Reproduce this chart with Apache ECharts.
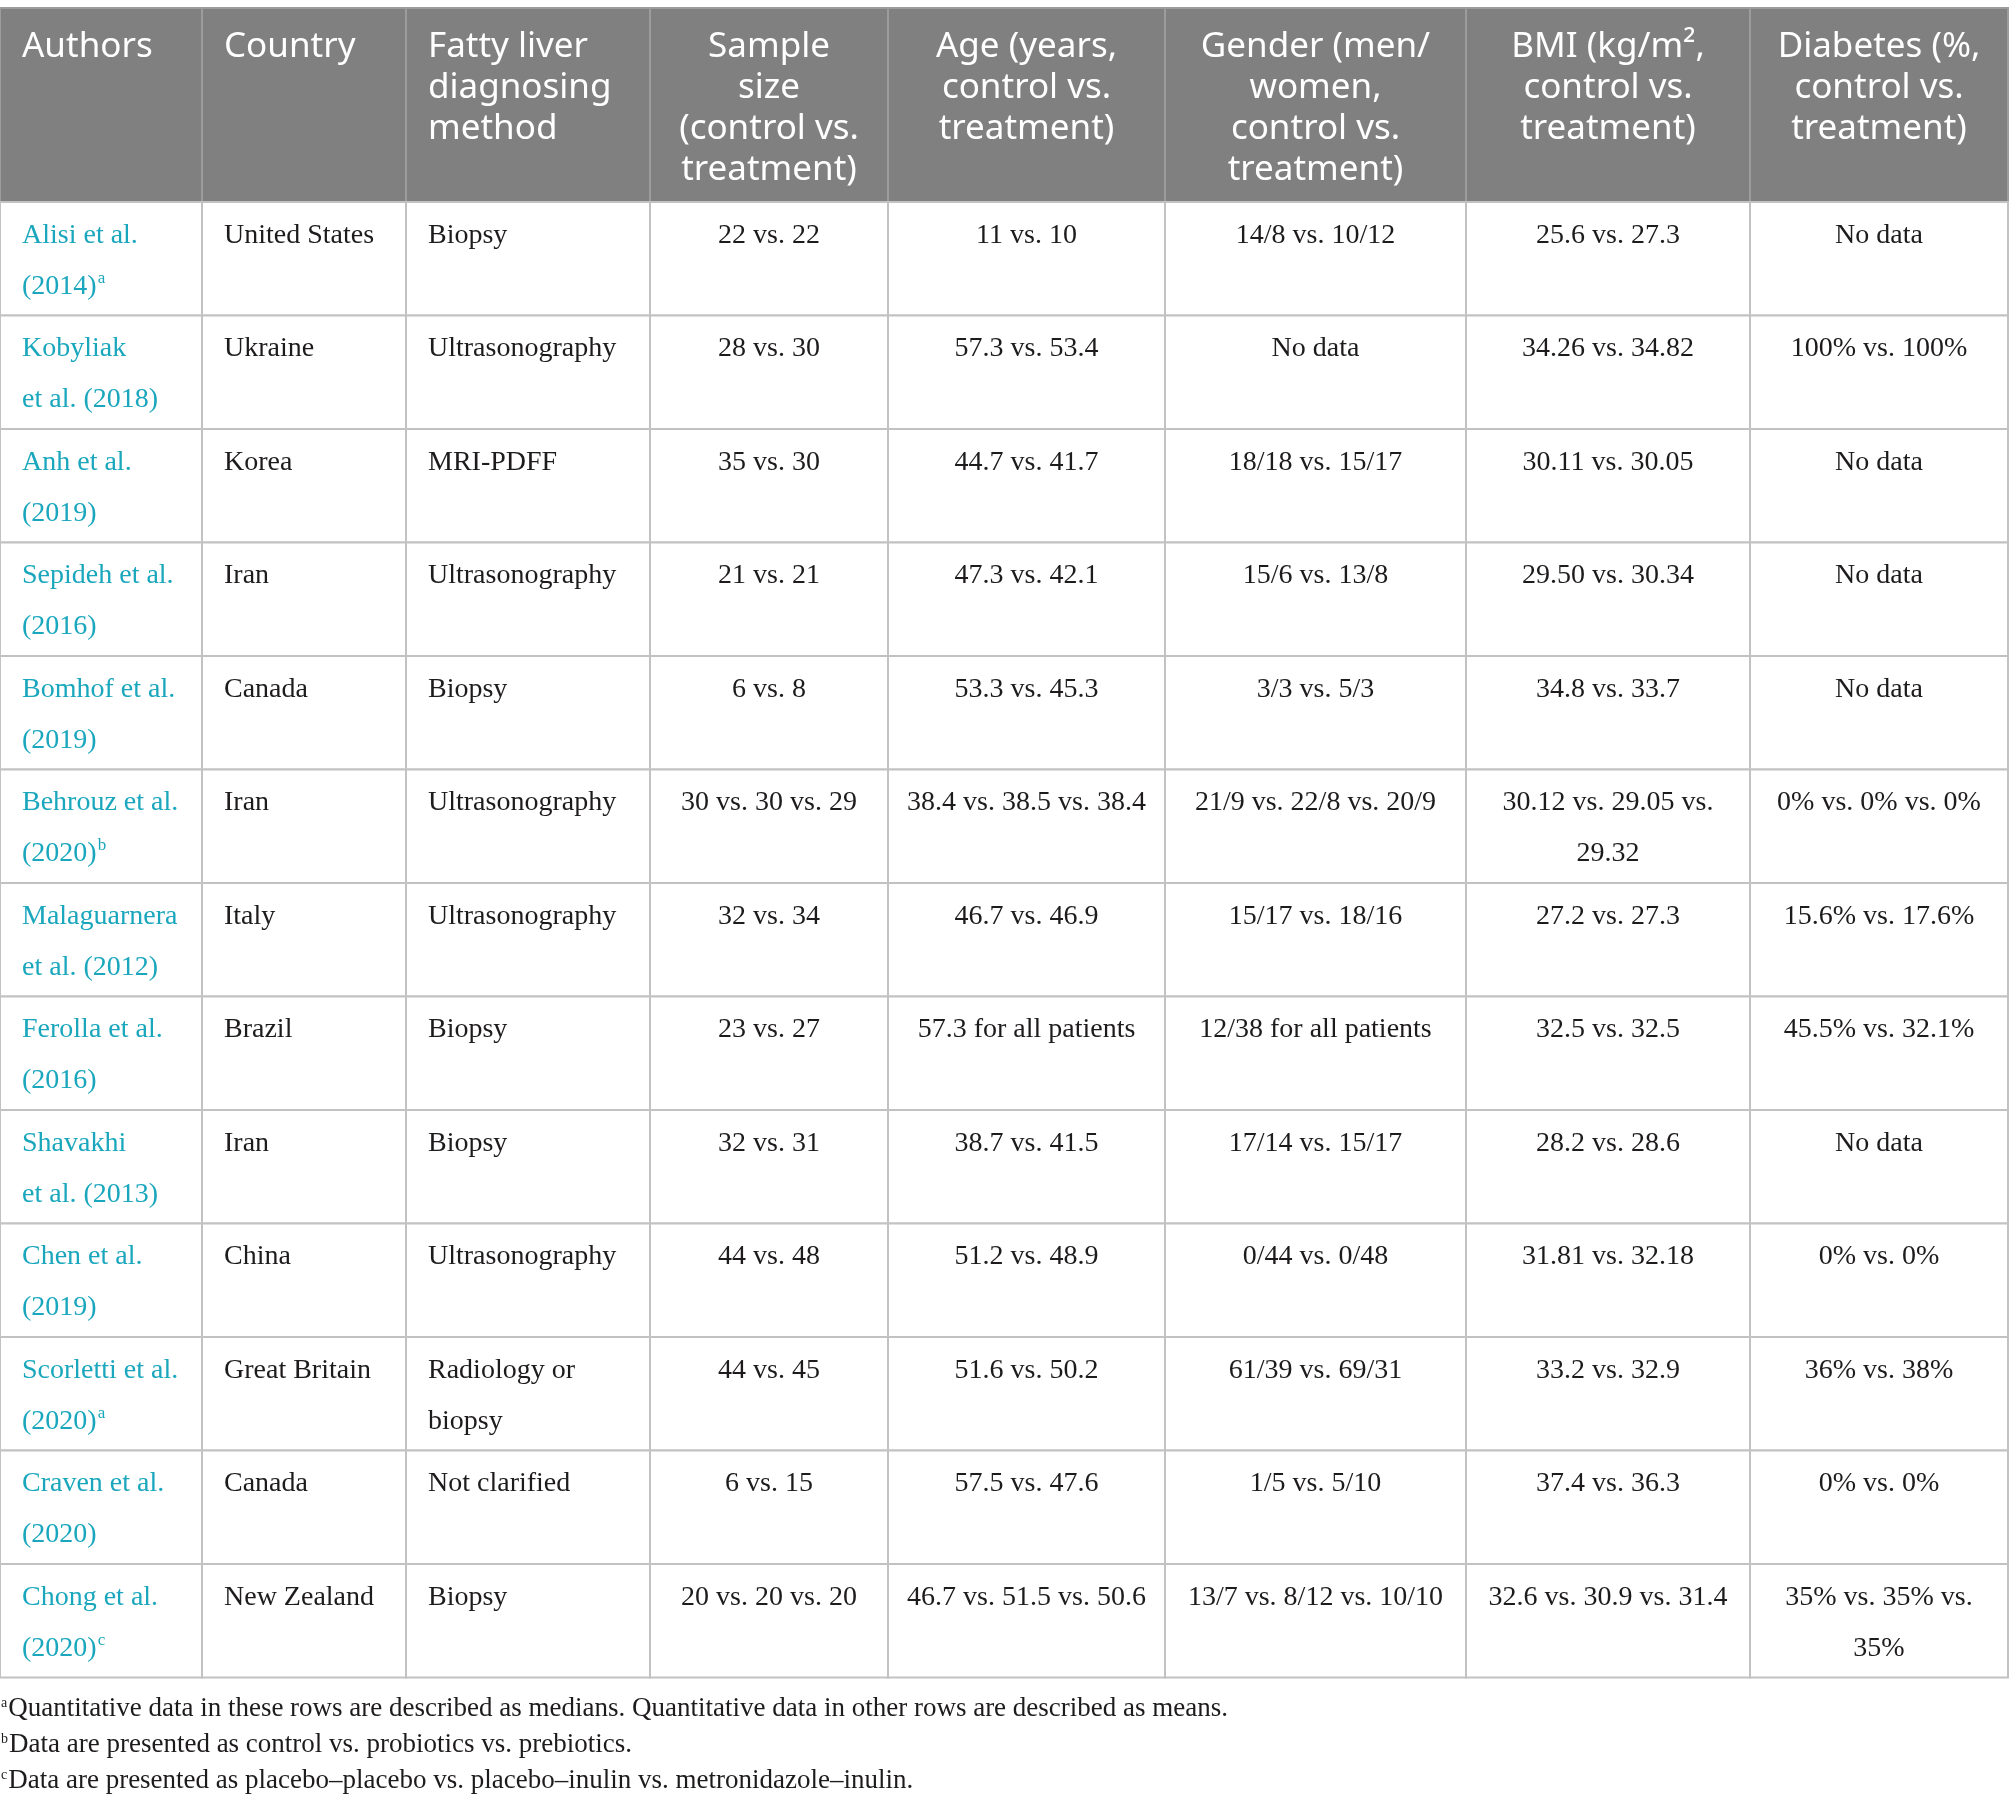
<!DOCTYPE html>
<html>
<head>
<meta charset="utf-8">
<script src="https://cdn.jsdelivr.net/npm/echarts@6/dist/echarts.min.js"></script>
<style>
html,body{margin:0;padding:0;background:#fff}
#main{width:2009px;height:1808px}
</style>
</head>
<body>
<div id="main"></div>
<script>
// table content
var headers = ['Authors', 'Country', 'Fatty liver\ndiagnosing\nmethod', 'Sample\nsize\n(control vs.\ntreatment)',
  'Age (years,\ncontrol vs.\ntreatment)', 'Gender (men/\nwomen,\ncontrol vs.\ntreatment)',
  'BMI (kg/m\u00b2,\ncontrol vs.\ntreatment)', 'Diabetes (%,\ncontrol vs.\ntreatment)'];
var authors = ['Alisi et al.\n(2014)', 'Kobyliak\net al. (2018)', 'Anh et al.\n(2019)', 'Sepideh et al.\n(2016)',
  'Bomhof et al.\n(2019)', 'Behrouz et al.\n(2020)', 'Malaguarnera\net al. (2012)', 'Ferolla et al.\n(2016)',
  'Shavakhi\net al. (2013)', 'Chen et al.\n(2019)', 'Scorletti et al.\n(2020)', 'Craven et al.\n(2020)', 'Chong et al.\n(2020)'];
var notes = ['a', '', '', '', '', 'b', '', '', '', '', 'a', '', 'c'];
var countries = ['United States', 'Ukraine', 'Korea', 'Iran', 'Canada', 'Iran', 'Italy', 'Brazil', 'Iran', 'China',
  'Great Britain', 'Canada', 'New Zealand'];
var methods = ['Biopsy', 'Ultrasonography', 'MRI-PDFF', 'Ultrasonography', 'Biopsy', 'Ultrasonography', 'Ultrasonography',
  'Biopsy', 'Biopsy', 'Ultrasonography', 'Radiology or\nbiopsy', 'Not clarified', 'Biopsy'];
var samples = ['22 vs. 22', '28 vs. 30', '35 vs. 30', '21 vs. 21', '6 vs. 8', '30 vs. 30 vs. 29', '32 vs. 34', '23 vs. 27',
  '32 vs. 31', '44 vs. 48', '44 vs. 45', '6 vs. 15', '20 vs. 20 vs. 20'];
var ages = ['11 vs. 10', '57.3 vs. 53.4', '44.7 vs. 41.7', '47.3 vs. 42.1', '53.3 vs. 45.3', '38.4 vs. 38.5 vs. 38.4',
  '46.7 vs. 46.9', '57.3 for all patients', '38.7 vs. 41.5', '51.2 vs. 48.9', '51.6 vs. 50.2', '57.5 vs. 47.6',
  '46.7 vs. 51.5 vs. 50.6'];
var genders = ['14/8 vs. 10/12', 'No data', '18/18 vs. 15/17', '15/6 vs. 13/8', '3/3 vs. 5/3', '21/9 vs. 22/8 vs. 20/9',
  '15/17 vs. 18/16', '12/38 for all patients', '17/14 vs. 15/17', '0/44 vs. 0/48', '61/39 vs. 69/31', '1/5 vs. 5/10',
  '13/7 vs. 8/12 vs. 10/10'];
var bmis = ['25.6 vs. 27.3', '34.26 vs. 34.82', '30.11 vs. 30.05', '29.50 vs. 30.34', '34.8 vs. 33.7',
  '30.12 vs. 29.05 vs.\n29.32', '27.2 vs. 27.3', '32.5 vs. 32.5', '28.2 vs. 28.6', '31.81 vs. 32.18', '33.2 vs. 32.9',
  '37.4 vs. 36.3', '32.6 vs. 30.9 vs. 31.4'];
var diabetes = ['No data', '100% vs. 100%', 'No data', 'No data', 'No data', '0% vs. 0% vs. 0%', '15.6% vs. 17.6%',
  '45.5% vs. 32.1%', 'No data', '0% vs. 0%', '36% vs. 38%', '0% vs. 0%', '35% vs. 35% vs.\n35%'];
var footnotes = [
  ['a', 'Quantitative data in these rows are described as medians. Quantitative data in other rows are described as means.'],
  ['b', 'Data are presented as control vs. probiotics vs. prebiotics.'],
  ['c', 'Data are presented as placebo\u2013placebo vs. placebo\u2013inulin vs. metronidazole\u2013inulin.']
];

var columns = [authors, countries, methods, samples, ages, genders, bmis, diabetes];

// layout
var colWidths = [202, 204, 244, 238, 277, 301, 284, 258];
var leftCols = 3;          // first columns are left aligned
var headerHeight = 194;
var rowHeight = 113.5;
var nRows = authors.length;
var totalHeight = headerHeight + nRows * rowHeight;

var colEdges = [0];
for (var i = 0; i < colWidths.length; i++) colEdges.push(colEdges[i] + colWidths[i]);

var cells = [];
for (var r = 0; r <= nRows; r++) {
  for (var c = 0; c < columns.length; c++) cells.push([c, r]);
}

var serif = '"Liberation Serif", serif';
var sans = '"Noto Sans", "Open Sans", sans-serif';
var teal = '#1aa7bd';
var ink = '#1e1b1c';

function renderCell(params, api) {
  var c = api.value(0), r = api.value(1);
  var y0 = r === 0 ? 0 : headerHeight + (r - 1) * rowHeight;
  var y1 = r === 0 ? headerHeight : y0 + rowHeight;
  var p0 = api.coord([colEdges[c], y0]);
  var p1 = api.coord([colEdges[c + 1], y1]);
  var left = c < leftCols;
  var tx = left ? p0[0] + 22 : (p0[0] + p1[0]) / 2;
  var text, style;
  if (r === 0) {
    style = {
      text: headers[c], x: tx, y: p0[1] + 19, fill: '#ffffff',
      fontFamily: sans, fontSize: 35, lineHeight: 41,
      align: left ? 'left' : 'center', verticalAlign: 'top'
    };
  } else {
    text = columns[c][r - 1];
    if (c === 0 && notes[r - 1]) text = text + '{sup|' + notes[r - 1] + '}';
    style = {
      text: text, x: tx, y: p0[1] + 8, fill: c === 0 ? teal : ink,
      fontFamily: serif, fontSize: 28, lineHeight: 51,
      align: left ? 'left' : 'center', verticalAlign: 'top',
      rich: { sup: { fontSize: 17, lineHeight: 17, verticalAlign: 'top', padding: [9, 0, 0, 1], fontFamily: serif } }
    };
  }
  return {
    type: 'group',
    children: [
      {
        type: 'rect',
        shape: { x: p0[0], y: p0[1], width: p1[0] - p0[0], height: p1[1] - p0[1] },
        style: {
          fill: r === 0 ? '#808080' : '#ffffff',
          stroke: r === 0 ? '#9c9c9c' : '#c2c2c2',
          lineWidth: 2
        }
      },
      { type: 'text', style: style }
    ]
  };
}

var chart = echarts.init(document.getElementById('main'));
chart.setOption({
  backgroundColor: '#ffffff',
  animation: false,
  grid: { left: 0, top: 8, width: colEdges[colEdges.length - 1], height: totalHeight },
  xAxis: { type: 'value', min: 0, max: colEdges[colEdges.length - 1], show: false },
  yAxis: { type: 'value', min: 0, max: totalHeight, inverse: true, show: false },
  series: [{
    type: 'custom',
    renderItem: renderCell,
    data: cells,
    silent: true,
    clip: false
  }],
  graphic: footnotes.map(function (f, i) {
    return {
      type: 'text',
      left: 1,
      top: 1691 + i * 36,
      silent: true,
      style: {
        text: '{sup|' + f[0] + '}' + f[1],
        fill: ink,
        fontFamily: serif,
        fontSize: 27,
        lineHeight: 36,
        rich: { sup: { fontSize: 14, lineHeight: 14, verticalAlign: 'top', padding: [5, 1, 0, 0], fontFamily: serif } }
      }
    };
  })
});
</script>
</body>
</html>
